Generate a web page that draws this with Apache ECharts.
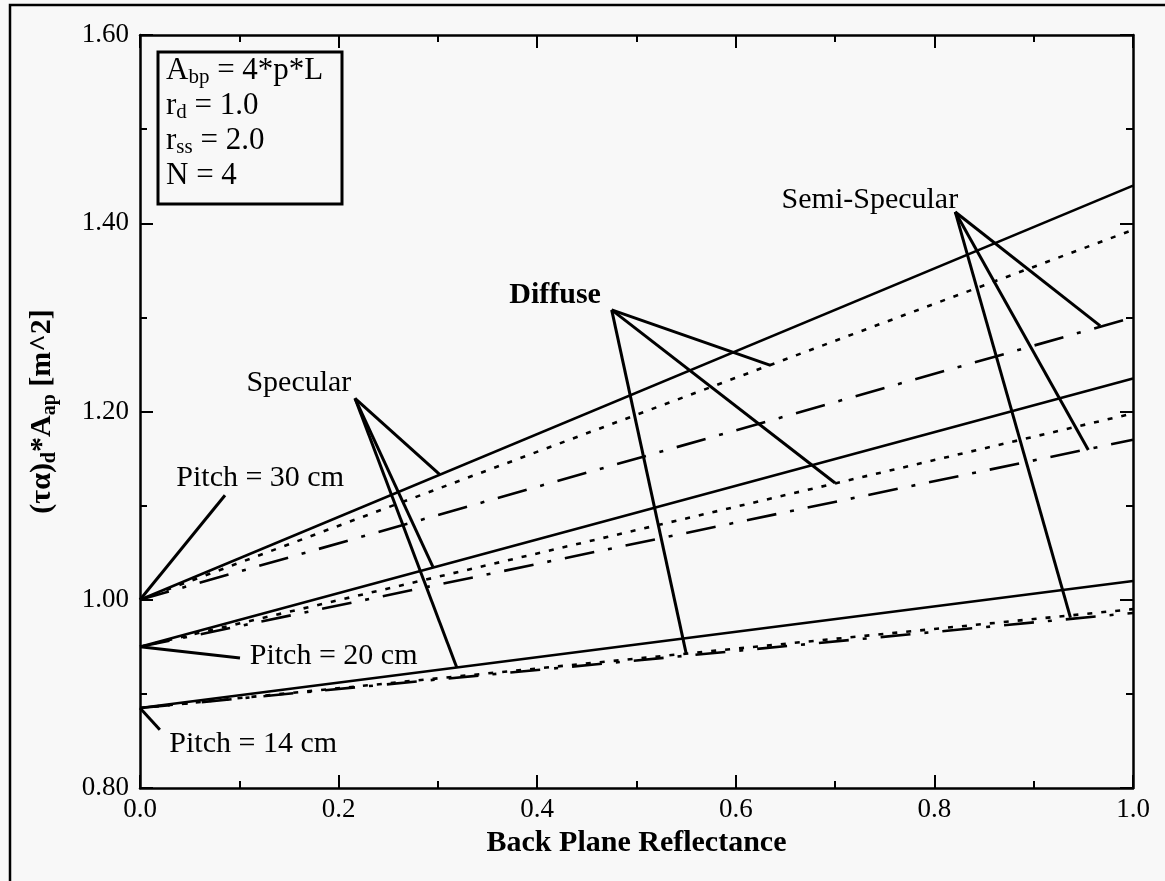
<!DOCTYPE html>
<html><head><meta charset="utf-8">
<script src="https://cdn.jsdelivr.net/npm/echarts@6/dist/echarts.min.js"></script>
<style>html,body{margin:0;padding:0;background:#f8f8f8}#c{width:1165px;height:881px}</style>
</head><body><div id="c"></div><script>
// ---- data ----
const reflectance = [0.0, 1.0];
const pitch30Specular = [1.000, 1.440];
const pitch30Diffuse  = [1.000, 1.393];
const pitch30Semi     = [1.000, 1.300];
const pitch20Specular = [0.950, 1.235];
const pitch20Diffuse  = [0.950, 1.198];
const pitch20Semi     = [0.950, 1.170];
const pitch14Specular = [0.885, 1.020];
const pitch14Diffuse  = [0.885, 0.990];
const pitch14Semi     = [0.885, 0.986];
const xTicks = [0.0, 0.2, 0.4, 0.6, 0.8, 1.0];
const yTicks = [0.80, 1.00, 1.20, 1.40, 1.60];

// callout texts [text, x, y, bold]
const calloutTexts = [
  ['Specular', 0.160, 1.230, false],
  ['Diffuse', 0.418, 1.324, true],
  ['Semi-Specular', 0.735, 1.425, false],
  ['Pitch = 30 cm', 0.121, 1.129, false],
  ['Pitch = 20 cm', 0.195, 0.940, false],
  ['Pitch = 14 cm', 0.114, 0.847, false]
];
// callout leader lines [[x1,y1],[x2,y2]]
const calloutLines = [
  [[0.2165, 1.214], [0.302, 1.133]],
  [[0.2165, 1.214], [0.295, 1.035]],
  [[0.2165, 1.214], [0.319, 0.928]],
  [[0.475, 1.308], [0.635, 1.249]],
  [[0.475, 1.308], [0.700, 1.124]],
  [[0.475, 1.308], [0.550, 0.943]],
  [[0.821, 1.412], [0.967, 1.291]],
  [[0.821, 1.412], [0.955, 1.159]],
  [[0.821, 1.412], [0.937, 0.981]],
  [[0.0, 1.000], [0.0856, 1.111]],
  [[0.0, 0.950], [0.1007, 0.938]],
  [[0.0, 0.885], [0.020, 0.862]]
];

const FONT = 'Liberation Serif';
const BLACK = '#000';
const styles = { specular: 'solid', diffuse: [5, 9], semi: [30, 14, 4, 14] };
const curves = [
  [pitch30Specular, 'specular'], [pitch30Diffuse, 'diffuse'], [pitch30Semi, 'semi'],
  [pitch20Specular, 'specular'], [pitch20Diffuse, 'diffuse'], [pitch20Semi, 'semi'],
  [pitch14Specular, 'specular'], [pitch14Diffuse, 'diffuse'], [pitch14Semi, 'semi']
];
function pairs(ys) { return reflectance.map((x, i) => [x, ys[i]]); }

const axisCommon = {
  axisLine: { show: true, onZero: false, lineStyle: { color: BLACK, width: 2.5 } },
  axisTick: { show: true, inside: true, length: 13, lineStyle: { color: BLACK, width: 2 } },
  minorTick: { show: true, splitNumber: 2, length: 7, lineStyle: { color: BLACK, width: 2 } },
  splitLine: { show: false }
};

const series = curves.map(([ys, kind]) => ({
  type: 'line', data: pairs(ys), showSymbol: false, symbol: 'none', silent: true,
  lineStyle: { color: BLACK, width: 2.6, type: styles[kind], opacity: 1 },
  xAxisIndex: 0, yAxisIndex: 0
}));
series.push({
  type: 'lines', coordinateSystem: 'cartesian2d', silent: true,
  data: calloutLines.map(c => ({ coords: c })),
  lineStyle: { color: BLACK, width: 3, opacity: 1, curveness: 0 }
});
series.push({
  type: 'scatter', silent: true, symbolSize: 1,
  itemStyle: { color: 'rgba(0,0,0,0)', opacity: 1 },
  label: { show: true, position: 'inside', formatter: p => p.name, color: BLACK, opacity: 1,
           fontSize: 30, fontFamily: FONT },
  data: calloutTexts.map(t => ({ name: t[0], value: [t[1], t[2]], label: { fontWeight: t[3] ? 'bold' : 'normal' } }))
});

const chart = echarts.init(document.getElementById('c'));
chart.setOption({
  animation: false,
  backgroundColor: '#f8f8f8',
  grid: { left: 140, right: 32, top: 35, bottom: 93 },
  xAxis: [
    Object.assign({}, axisCommon, {
      type: 'value', min: xTicks[0], max: xTicks[xTicks.length - 1], interval: 0.2, position: 'bottom',
      axisLabel: { color: BLACK, fontSize: 27, fontFamily: FONT, margin: 8, formatter: v => v.toFixed(1) },
      name: 'Back Plane Reflectance', nameLocation: 'middle', nameGap: 40,
      nameTextStyle: { color: BLACK, fontSize: 30, fontWeight: 'bold', fontFamily: FONT }
    }),
    Object.assign({}, axisCommon, {
      type: 'value', min: xTicks[0], max: xTicks[xTicks.length - 1], interval: 0.2, position: 'top',
      axisLabel: { show: false }
    })
  ],
  yAxis: [
    Object.assign({}, axisCommon, {
      type: 'value', min: yTicks[0], max: yTicks[yTicks.length - 1], interval: 0.2, position: 'left',
      axisLabel: { color: BLACK, fontSize: 27, fontFamily: FONT, margin: 11, formatter: v => v.toFixed(2) },
      name: '{m|(τα)}{s|d}{m|*A}{s|ap}{m| [m^2]}', nameLocation: 'middle', nameGap: 80, nameRotate: 90,
      nameTextStyle: {
        color: BLACK,
        rich: {
          m: { fontSize: 30, fontWeight: 'bold', fontFamily: FONT, lineHeight: 36, color: BLACK },
          s: { fontSize: 20, fontWeight: 'bold', fontFamily: FONT, lineHeight: 10, verticalAlign: 'bottom', color: BLACK }
        }
      }
    }),
    Object.assign({}, axisCommon, {
      type: 'value', min: yTicks[0], max: yTicks[yTicks.length - 1], interval: 0.2, position: 'right',
      axisLabel: { show: false }
    })
  ],
  graphic: [
    { type: 'polyline', silent: true, shape: { points: [[10, 881], [10, 5], [1165, 5]] },
      style: { stroke: BLACK, lineWidth: 2.5, fill: null } },
    { type: 'rect', silent: true, shape: { x: 158, y: 52, width: 184, height: 152 },
      style: { stroke: BLACK, lineWidth: 3, fill: null } },
    { type: 'text', silent: true, left: 166, top: 55,
      style: {
        text: '{m|A}{s|bp}{m| = 4*p*L}\n{m|r}{s|d}{m| = 1.0}\n{m|r}{s|ss}{m| = 2.0}\n{m|N = 4}',
        fill: BLACK,
        rich: {
          m: { fontSize: 31, fontFamily: FONT, lineHeight: 35, fill: BLACK },
          s: { fontSize: 21, fontFamily: FONT, lineHeight: 12, verticalAlign: 'bottom', fill: BLACK }
        }
      } }
  ],
  series: series
});
</script></body></html>
